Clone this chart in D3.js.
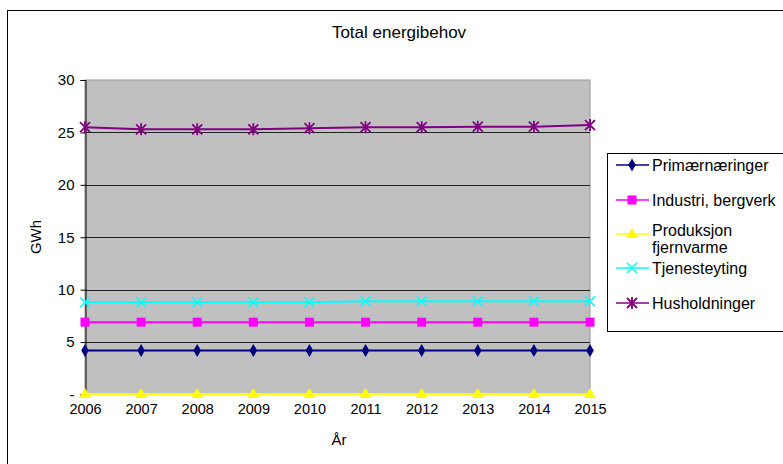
<!DOCTYPE html>
<html><head><meta charset="utf-8">
<script src="https://cdn.jsdelivr.net/npm/d3@7"></script>
<style>body{margin:0;background:#fff}svg{display:block;font-family:"Liberation Sans",Arial,sans-serif}</style>
</head><body>
<svg id="c" width="783" height="464"></svg>
<script>
const years = [2006,2007,2008,2009,2010,2011,2012,2013,2014,2015];
const primaer = [4.2,4.2,4.2,4.2,4.2,4.2,4.2,4.2,4.2,4.2];
const industri = [6.9,6.9,6.9,6.9,6.9,6.9,6.9,6.9,6.9,6.9];
const fjernvarme = [0.05,0.05,0.05,0.05,0.05,0.05,0.05,0.05,0.05,0.05];
const tjeneste = [8.8,8.8,8.8,8.8,8.8,8.9,8.9,8.9,8.9,8.9];
const husholdning = [25.5,25.3,25.3,25.3,25.4,25.5,25.5,25.55,25.55,25.7];
const seriesNames = ["Primærnæringer","Industri, bergverk","Produksjon fjernvarme","Tjenesteyting","Husholdninger"];
const seriesColors = ["#000080","#ff00ff","#ffff00","#00ffff","#800080"];
const seriesShapes = ["diamond","square","triangle","x","star"];
const yTicks = [0,5,10,15,20,25,30];

const series = [primaer,industri,fjernvarme,tjeneste,husholdning].map((v,i)=>({name:seriesNames[i],color:seriesColors[i],shape:seriesShapes[i],values:v}));

const svg = d3.select("#c");
svg.append("rect").attr("x",7.5).attr("y",10.5).attr("width",800).attr("height",500).attr("fill","#fff").attr("stroke","#000");

const x = d3.scaleLinear().domain([2006,2015]).range([85,590]);
const y = d3.scaleLinear().domain([0,30]).range([394.5,80]);

svg.append("rect").attr("x",85).attr("y",y(30)).attr("width",505).attr("height",y(0)-y(30)).attr("fill","#c0c0c0").attr("stroke","#999");

// gridlines
svg.append("g").selectAll("line").data(yTicks.filter(d=>d>0&&d<30)).join("line")
  .attr("x1",85).attr("x2",590).attr("y1",d=>Math.round(y(d))+0.5).attr("y2",d=>Math.round(y(d))+0.5)
  .attr("stroke","#222").attr("stroke-width",1.2);

// y axis
const yAxis = d3.axisLeft(y).tickValues(yTicks).tickSize(5).tickFormat(d=>d===0?"-":d);
const gy = svg.append("g").attr("transform","translate(85.5,0)").call(yAxis);
gy.select(".domain").attr("stroke","#000");
gy.selectAll("text").attr("font-size",15).attr("fill","#000").attr("dx",-3);

// x axis labels
const xAxis = d3.axisBottom(x).tickValues(years).tickSize(0).tickFormat(d3.format("d"));
const gx = svg.append("g").attr("transform","translate(0,394.5)").call(xAxis);
gx.select(".domain").remove();
gx.selectAll("text").attr("font-size",14.5).attr("fill","#000").attr("dy","1.15em");

svg.append("text").attr("x",399).attr("y",38).attr("text-anchor","middle").attr("font-size",17).text("Total energibehov");
svg.append("text").attr("x",339).attr("y",445).attr("text-anchor","middle").attr("font-size",15).text("År");
svg.append("text").attr("transform","translate(41,237) rotate(-90)").attr("text-anchor","middle").attr("font-size",15).text("GWh");

function marker(g, shape, color){
  if(shape==="diamond") g.append("path").attr("d",d3.symbol(d3.symbolDiamond,50)()).attr("fill",color);
  else if(shape==="square") g.append("rect").attr("x",-4.5).attr("y",-4.5).attr("width",9).attr("height",9).attr("fill",color);
  else if(shape==="triangle") g.append("path").attr("d","M0,-6L6,4L-6,4Z").attr("fill",color);
  else if(shape==="x") g.append("path").attr("d","M-5,-5L5,5M-5,5L5,-5").attr("stroke",color).attr("stroke-width",1.5);
  else if(shape==="star") g.append("path").attr("d","M-5,-5L5,5M-5,5L5,-5M0,-6L0,6").attr("stroke",color).attr("stroke-width",1.8);
}

const line = d3.line().x((d,i)=>x(years[i])).y(d=>y(d));
series.forEach(s=>{
  svg.append("path").attr("d",line(s.values)).attr("fill","none").attr("stroke",s.color).attr("stroke-width",2);
  s.values.forEach((v,i)=>{
    const g = svg.append("g").attr("transform",`translate(${x(years[i])},${y(v)})`);
    marker(g,s.shape,s.color);
  });
});

// legend
const lg = svg.append("g");
lg.append("rect").attr("x",607.5).attr("y",153.5).attr("width",200).attr("height",178).attr("fill","#fff").attr("stroke","#000");
const legY = [165,200,234,268,303];
series.forEach((s,i)=>{
  const ly = legY[i];
  lg.append("line").attr("x1",616).attr("x2",649).attr("y1",ly).attr("y2",ly).attr("stroke",s.color).attr("stroke-width",1.5);
  const g = lg.append("g").attr("transform",`translate(632,${ly})`);
  marker(g,s.shape,s.color);
  const t = lg.append("text").attr("x",652).attr("y",ly+6).attr("font-size",16);
  if(s.name==="Produksjon fjernvarme"){
    t.attr("y",ly+2);
    t.append("tspan").attr("x",652).text("Produksjon");
    t.append("tspan").attr("x",652).attr("dy",17).text("fjernvarme");
  } else t.text(s.name);
});
</script>
</body></html>
